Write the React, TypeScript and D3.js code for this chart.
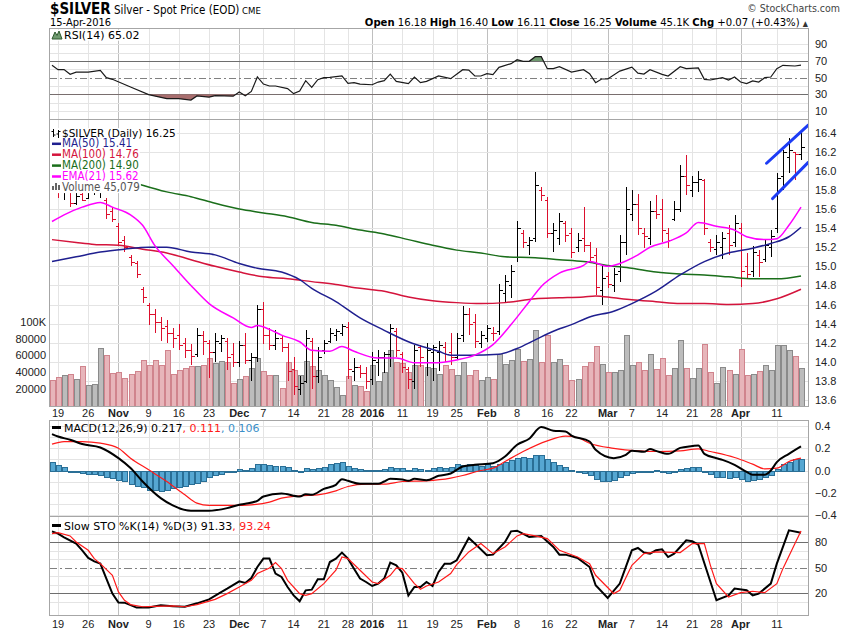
import { useEffect, useRef } from "react";
import * as d3 from "d3";

// ---- data (bar index 0 = 16-Oct-2015 ... 124 = 15-Apr-2016) ----

// [open, high, low, close]
const ohlc: [number, number, number, number][] = [
  [15.9, 15.95, 15.78, 15.85], [15.85, 15.9, 15.72, 15.78], [15.78, 15.88, 15.7, 15.84], [15.8, 15.82, 15.62, 15.66],
  [15.66, 15.78, 15.64, 15.74], [15.76, 15.82, 15.68, 15.7], [15.72, 15.88, 15.72, 15.8], [15.8, 15.92, 15.75, 15.84],
  [15.84, 16.05, 15.72, 15.88], [15.7, 15.72, 15.5, 15.55], [15.58, 15.62, 15.46, 15.5], [15.42, 15.45, 15.22, 15.25],
  [15.28, 15.32, 15.15, 15.2], [15.1, 15.12, 15.0, 15.05], [15.04, 15.06, 14.88, 14.92], [14.76, 14.78, 14.62, 14.68],
  [14.6, 14.62, 14.39, 14.5], [14.5, 14.55, 14.3, 14.42], [14.42, 14.47, 14.22, 14.35], [14.38, 14.44, 14.2, 14.3],
  [14.3, 14.35, 14.14, 14.25], [14.28, 14.4, 14.12, 14.18], [14.2, 14.25, 14.04, 14.12], [14.12, 14.19, 13.97, 14.06],
  [14.08, 14.35, 14.05, 14.28], [14.28, 14.32, 14.07, 14.22], [14.2, 14.23, 13.83, 14.1], [14.1, 14.3, 14.0, 14.22],
  [14.2, 14.28, 14.1, 14.25], [14.22, 14.25, 13.91, 14.05], [14.08, 14.2, 13.95, 14.0], [14.0, 14.22, 13.95, 14.18],
  [14.18, 14.3, 13.98, 14.02], [14.02, 14.09, 13.8, 14.05], [14.05, 14.6, 14.0, 14.55], [14.55, 14.63, 14.19, 14.28],
  [14.28, 14.35, 14.12, 14.18], [14.18, 14.33, 14.12, 14.25], [14.25, 14.28, 14.1, 14.15], [14.15, 14.2, 13.8, 13.9],
  [13.92, 14.05, 13.65, 13.75], [13.72, 13.85, 13.65, 13.78], [13.8, 14.33, 13.78, 14.25], [14.22, 14.25, 13.72, 13.85],
  [13.85, 14.15, 13.78, 14.05], [14.12, 14.23, 14.08, 14.2], [14.22, 14.35, 14.2, 14.3], [14.28, 14.34, 14.22, 14.32],
  [14.3, 14.4, 14.27, 14.38], [14.36, 14.42, 13.82, 13.92], [13.9, 14.04, 13.8, 13.95], [13.95, 13.97, 13.83, 13.88],
  [13.88, 13.95, 13.72, 13.8], [13.82, 14.1, 13.76, 14.02], [14.0, 14.12, 13.85, 14.05], [14.05, 14.1, 13.88, 14.08],
  [14.08, 14.4, 13.95, 14.35], [14.32, 14.35, 14.05, 14.12], [14.08, 14.1, 13.88, 13.95], [13.92, 13.95, 13.72, 13.82],
  [13.8, 14.18, 13.72, 14.12], [14.15, 14.18, 13.95, 14.05], [14.0, 14.2, 13.85, 14.12], [14.1, 14.18, 13.8, 14.15],
  [14.1, 14.22, 13.9, 14.18], [14.15, 14.21, 14.0, 14.08], [14.1, 14.3, 13.97, 14.05], [14.05, 14.3, 14.02, 14.25],
  [14.28, 14.58, 14.21, 14.5], [14.5, 14.56, 14.28, 14.4], [14.42, 14.5, 14.14, 14.22], [14.2, 14.32, 14.14, 14.28],
  [14.25, 14.39, 14.21, 14.35], [14.3, 14.36, 14.22, 14.3], [14.32, 14.81, 14.28, 14.75], [14.72, 14.91, 14.63, 14.85],
  [14.8, 15.01, 14.67, 14.95], [15.1, 15.47, 15.05, 15.4], [15.35, 15.38, 15.19, 15.25], [15.22, 15.31, 15.12, 15.28],
  [15.3, 15.99, 15.26, 15.85], [15.8, 15.83, 15.68, 15.75], [15.7, 15.73, 15.3, 15.35], [15.35, 15.45, 15.15, 15.38],
  [15.3, 15.56, 15.22, 15.48], [15.45, 15.47, 15.26, 15.33], [15.35, 15.4, 15.09, 15.15], [15.2, 15.35, 15.15, 15.28],
  [15.3, 15.62, 15.15, 15.22], [15.22, 15.26, 15.05, 15.1], [15.12, 15.19, 14.7, 14.78], [14.75, 15.01, 14.6, 14.88],
  [14.9, 14.94, 14.77, 14.82], [14.8, 14.98, 14.73, 14.92], [14.95, 15.33, 14.84, 15.25], [15.25, 15.83, 15.12, 15.6],
  [15.55, 15.8, 15.47, 15.65], [15.65, 15.76, 15.33, 15.4], [15.35, 15.4, 15.19, 15.32], [15.3, 15.68, 15.22, 15.58],
  [15.58, 15.75, 15.5, 15.55], [15.6, 15.71, 15.26, 15.38], [15.35, 15.4, 15.19, 15.28], [15.5, 15.68, 15.47, 15.6],
  [15.6, 16.06, 15.57, 15.95], [15.95, 16.17, 15.75, 15.85], [15.8, 15.95, 15.73, 15.88], [15.88, 16.0, 15.78, 15.92],
  [15.9, 15.92, 15.33, 15.4], [15.25, 15.29, 15.15, 15.2], [15.18, 15.33, 15.12, 15.25], [15.2, 15.36, 15.08, 15.3],
  [15.35, 15.43, 15.12, 15.22], [15.25, 15.54, 15.2, 15.45], [15.4, 15.45, 14.78, 14.95], [15.0, 15.14, 14.88, 14.92],
  [14.95, 15.21, 14.89, 15.15], [15.12, 15.17, 14.89, 15.05], [15.08, 15.28, 15.05, 15.22], [15.2, 15.38, 15.1, 15.32],
  [15.4, 15.98, 15.35, 15.93], [15.95, 16.22, 15.8, 16.2], [16.15, 16.34, 15.98, 16.22], [16.2, 16.2, 15.9, 16.18],
  [16.18, 16.4, 16.11, 16.25],
];

// volume, thousands
const volumeK = [
  31, 34, 36, 38, 32, 47, 24, 26, 69, 61,
  39, 40, 33, 38, 41, 54, 49, 55, 48, 66,
  38, 42, 45, 47, 47, 48, 57, 51, 53, 52,
  27, 32, 35, 45, 57, 41, 37, 36, 21, 52,
  42, 36, 53, 47, 43, 37, 30, 22, 13, 35,
  24, 23, 17, 49, 29, 40, 66, 52, 51, 40,
  48, 49, 46, 45, 38, 48, 44, 36, 52, 37,
  42, 31, 34, 32, 62, 50, 54, 68, 53, 56,
  91, 52, 85, 52, 56, 49, 30, 32, 47, 52,
  71, 50, 40, 40, 42, 84, 48, 52, 43, 62,
  44, 57, 37, 45, 78, 45, 33, 45, 74, 40,
  27, 46, 43, 38, 68, 36, 38, 41, 49, 42,
  72, 73, 67, 59, 45.079,
];

// overlays: [bar index, value]
const ma50: [number, number][] = [
  [0, 15.05], [4, 15.1], [8, 15.15], [12, 15.18], [16, 15.2], [19, 15.2], [23, 15.15], [27, 15.12], [31, 15.03],
  [34, 14.98], [38, 14.94], [41, 14.86], [43, 14.77], [47, 14.63], [51, 14.46], [55, 14.33], [59, 14.21], [64, 14.11],
  [66, 14.07], [69, 14.07], [74, 14.08], [77, 14.14], [80, 14.23], [83, 14.32], [86, 14.39], [89, 14.47], [93, 14.53],
  [96, 14.61], [100, 14.74], [104, 14.91], [108, 15.05], [112, 15.14], [116, 15.19], [119, 15.24], [122, 15.31], [124, 15.41],
];
const ma100: [number, number][] = [
  [0, 15.28], [4, 15.25], [7, 15.23], [11, 15.22], [15, 15.18], [19, 15.14], [23, 15.07], [27, 15.0], [31, 14.94],
  [35, 14.89], [39, 14.87], [43, 14.84], [47, 14.81], [51, 14.77], [55, 14.74], [59, 14.68], [63, 14.64], [67, 14.62],
  [71, 14.61], [75, 14.62], [80, 14.66], [84, 14.67], [88, 14.68], [90, 14.69], [93, 14.67], [96, 14.65], [100, 14.63],
  [104, 14.61], [108, 14.61], [112, 14.6], [116, 14.61], [120, 14.66], [124, 14.76],
];
const ma200: [number, number][] = [
  [0, 16.0], [5, 15.96], [10, 15.91], [13, 15.89], [15, 15.85], [19, 15.78], [23, 15.73], [27, 15.66], [31, 15.6],
  [35, 15.56], [39, 15.52], [43, 15.46], [47, 15.43], [51, 15.38], [55, 15.34], [59, 15.28], [63, 15.22], [67, 15.17],
  [71, 15.14], [75, 15.1], [80, 15.09], [84, 15.07], [88, 15.05], [92, 15.01], [96, 14.98], [100, 14.94], [104, 14.92],
  [108, 14.91], [112, 14.89], [116, 14.87], [120, 14.87], [124, 14.9],
];
const ema21: [number, number][] = [
  [0, 15.47], [2, 15.54], [5, 15.62], [8, 15.67], [10, 15.62], [13, 15.54], [15, 15.43], [17, 15.22], [20, 15.01],
  [23, 14.8], [26, 14.61], [30, 14.46], [33, 14.36], [34, 14.38], [36, 14.34], [38, 14.28], [41, 14.21], [43, 14.12],
  [46, 14.11], [48, 14.16], [50, 14.11], [54, 14.04], [57, 14.04], [60, 13.99], [63, 13.99], [67, 14.02], [70, 14.07],
  [73, 14.18], [76, 14.39], [79, 14.63], [81, 14.79], [84, 14.93], [88, 15.01], [89, 15.05], [92, 15.0], [94, 15.03],
  [97, 15.12], [99, 15.2], [102, 15.26], [105, 15.35], [107, 15.46], [110, 15.42], [113, 15.38], [115, 15.31],
  [118, 15.28], [120, 15.29], [122, 15.43], [124, 15.62],
];

const rsi: [number, number][] = [
  [0, 64.8], [1, 59.6], [2, 59.8], [3, 54], [4, 56.7], [6, 56.7], [8, 58.8], [9, 50], [10, 48], [13, 38.7], [16, 29.6],
  [19, 24.8], [21, 24.8], [23, 23.1], [24, 28], [26, 26.6], [27, 28.3], [30, 27.8], [31, 32.7], [32, 28.3], [33, 33.5],
  [34, 50.8], [35, 42.3], [36, 40], [37, 40], [39, 36.8], [40, 30.8], [41, 33.9], [42, 46.4], [43, 38.3], [44, 47.6],
  [45, 50], [46, 50.3], [48, 52], [49, 43.2], [50, 44], [51, 42.3], [53, 41.5], [54, 44.7], [55, 46.4], [56, 54.3],
  [57, 45.5], [59, 42.8], [60, 50.8], [61, 44], [62, 45.6], [64, 52], [66, 48.8], [68, 59.6], [69, 59], [70, 52],
  [71, 52], [72, 54.8], [73, 53.6], [74, 62.4], [76, 66.8], [77, 71.6], [78, 69.6], [79, 69.6], [80, 75.2], [81, 75.2],
  [82, 60.8], [83, 60.8], [84, 63.2], [86, 56.7], [88, 59.6], [89, 54.8], [90, 44], [91, 48.4], [92, 48.4], [94, 57.9],
  [96, 62.7], [97, 55.5], [98, 54.3], [99, 59.6], [101, 54], [102, 52], [104, 63.2], [105, 60.8], [107, 61.6], [108, 48],
  [109, 47.2], [111, 50], [112, 47.2], [113, 50.8], [114, 44.7], [115, 42.8], [116, 46], [117, 44.7], [118, 50],
  [119, 50.8], [120, 60.8], [121, 64.8], [123, 64], [124, 65.02],
];

const macd: [number, number][] = [
  [0, 0.328], [1, 0.306], [3, 0.277], [5, 0.238], [8, 0.207], [11, 0.111], [13, 0.022], [15, -0.099], [18, -0.249],
  [20, -0.315], [23, -0.363], [26, -0.363], [29, -0.339], [31, -0.309], [32, -0.3], [34, -0.273], [35, -0.234],
  [38, -0.207], [41, -0.234], [42, -0.213], [43, -0.219], [45, -0.165], [47, -0.129], [48, -0.078], [49, -0.093],
  [51, -0.12], [54, -0.12], [55, -0.099], [56, -0.075], [58, -0.081], [59, -0.093], [60, -0.075], [62, -0.088],
  [64, -0.048], [66, -0.027], [68, 0.036], [70, 0.051], [73, 0.066], [75, 0.126], [77, 0.232], [79, 0.286], [81, 0.391],
  [83, 0.358], [85, 0.352], [86, 0.315], [89, 0.261], [90, 0.186], [93, 0.111], [95, 0.141], [96, 0.177], [98, 0.168],
  [99, 0.193], [100, 0.177], [102, 0.15], [104, 0.204], [106, 0.22], [107, 0.226], [108, 0.15], [110, 0.111],
  [111, 0.096], [113, 0.051], [115, -0.012], [116, -0.039], [118, -0.039], [119, 0.0], [120, 0.075], [122, 0.15], [124, 0.217],
];
const signal: [number, number][] = [
  [0, 0.238], [2, 0.261], [5, 0.261], [8, 0.246], [11, 0.2], [13, 0.111], [16, 0.006], [19, -0.099], [22, -0.219],
  [24, -0.294], [26, -0.315], [30, -0.315], [33, -0.309], [36, -0.285], [38, -0.249], [41, -0.228], [44, -0.219],
  [47, -0.183], [49, -0.144], [52, -0.123], [55, -0.123], [58, -0.099], [62, -0.093], [66, -0.069], [68, -0.045],
  [71, 0.0], [73, 0.021], [75, 0.081], [78, 0.171], [82, 0.267], [85, 0.31], [87, 0.297], [89, 0.246], [93, 0.2],
  [97, 0.177], [100, 0.171], [104, 0.177], [107, 0.195], [109, 0.171], [113, 0.117], [116, 0.057], [118, 0.015],
  [120, 0.021], [122, 0.081], [124, 0.111],
];
const histogram = [
  0.075, 0.051, 0.033, -0.003, -0.015, -0.024, -0.033, -0.033, -0.039, -0.057,
  -0.069, -0.087, -0.099, -0.123, -0.141, -0.153, -0.174, -0.177, -0.183, -0.177,
  -0.159, -0.153, -0.144, -0.123, -0.114, -0.093, -0.063, -0.045, -0.033, -0.015,
  -0.009, 0.015, 0.006, 0.021, 0.057, 0.057, 0.051, 0.045, 0.039, 0.033,
  0.009, -0.003, 0.027, 0.012, 0.021, 0.033, 0.057, 0.066, 0.075, 0.045,
  0.027, 0.015, 0.006, 0.006, 0.006, 0.015, 0.03, 0.027, 0.021, 0.009,
  0.021, 0.015, 0.009, 0.021, 0.03, 0.021, 0.036, 0.057, 0.051, 0.057,
  0.051, 0.045, 0.057, 0.045, 0.057, 0.075, 0.096, 0.117, 0.123, 0.111,
  0.141, 0.141, 0.102, 0.075, 0.051, 0.03, 0.006, -0.009, -0.024, -0.045,
  -0.075, -0.099, -0.099, -0.084, -0.063, -0.039, -0.024, -0.009, -0.009, -0.003,
  0.006, -0.003, -0.024, -0.015, 0.015, 0.027, 0.03, 0.033, -0.009, -0.033,
  -0.063, -0.063, -0.069, -0.063, -0.075, -0.093, -0.087, -0.075, -0.063, -0.039,
  0.015, 0.057, 0.081, 0.105, 0.106,
];

const stoK: [number, number][] = [
  [0, 92.9], [1, 90.2], [2, 85.9], [4, 78.5], [5, 70.6], [6, 61.6], [7, 57.6], [8, 54.9], [9, 37.3], [10, 19.6],
  [11, 9.1], [12, 9], [14, 3.2], [16, 3.2], [18, 5.9], [20, 4.7], [22, 4.2], [24, 8.2], [26, 12.9], [28, 21.5],
  [29, 25.5], [31, 34.1], [32, 32.1], [33, 38], [34, 50.9], [35, 60.8], [36, 60.8], [37, 43.2], [38, 39.2], [39, 27.4],
  [40, 17.6], [41, 10.6], [42, 23.5], [43, 24.3], [44, 36.5], [45, 36.5], [46, 56.8], [47, 60.8], [48, 67.9], [49, 60.8],
  [50, 49], [51, 37.3], [52, 33.3], [53, 28.6], [54, 31.4], [55, 37.3], [56, 56.1], [57, 52.9], [58, 44.3], [59, 17.6],
  [60, 27.4], [61, 27.4], [62, 33.3], [63, 28.6], [64, 45.1], [65, 54.9], [66, 54.9], [67, 58.8], [69, 85.1], [70, 78.5],
  [72, 64.7], [73, 65.5], [75, 80.4], [76, 92.9], [77, 93.7], [79, 86.3], [81, 87.5], [83, 74.5], [84, 65.5], [85, 65.5],
  [87, 61.6], [89, 50.9], [90, 29.4], [92, 14.5], [94, 31.4], [96, 70.6], [97, 73.3], [98, 67.9], [99, 66.7], [100, 70.6],
  [101, 71.8], [102, 62.7], [103, 66.7], [104, 74.5], [105, 82.4], [106, 81.2], [107, 77.3], [110, 11.8], [112, 17.6],
  [113, 25.5], [115, 23.5], [116, 17.6], [117, 19.6], [119, 31.4], [120, 54.9], [122, 94.1], [124, 91.33],
];
const stoD: [number, number][] = [
  [0, 90.2], [1, 91.4], [3, 87.5], [4, 80.4], [6, 70.6], [7, 60.8], [8, 54.9], [10, 41.2], [11, 21.6], [12, 11.8],
  [13, 6.7], [15, 4.2], [17, 4.7], [20, 5.1], [22, 4.2], [24, 6.7], [27, 12.9], [29, 19.6], [31, 27.4], [33, 35.3],
  [34, 43.2], [36, 49.8], [37, 56.1], [38, 49], [39, 35.3], [41, 19.6], [42, 17.6], [43, 19.6], [45, 31.4], [47, 47.1],
  [48, 62.7], [49, 60.8], [51, 47.1], [53, 33.3], [54, 31.4], [56, 41.2], [57, 49.8], [58, 49], [60, 31.4], [61, 24.7],
  [62, 28.6], [64, 33.3], [66, 43.2], [67, 53.8], [69, 68.7], [71, 78.5], [73, 66.7], [75, 74.5], [77, 87.5], [78, 90.2],
  [80, 87.5], [82, 84.3], [84, 70.6], [87, 62.7], [89, 54.9], [90, 41.2], [93, 19.6], [94, 23.5], [96, 52.9], [98, 66.7],
  [100, 68.7], [104, 67.9], [106, 78.5], [108, 78.5], [109, 52.9], [110, 31.4], [112, 15.7], [114, 20.8], [116, 22.4],
  [118, 20.8], [120, 31.4], [121, 49], [123, 78.5], [124, 93.24],
];

// hand-drawn channel on the price panel: [bar index, price]
const channelUpper: [number, number][] = [[118.3, 16.08], [125.2, 16.48]];
const channelLower: [number, number][] = [[119.3, 15.71], [125.2, 16.09]];

// axis labels
const xTicks: [number, string, boolean][] = [
  [1, "19", false], [6, "26", false], [11, "Nov", true], [16, "9", false], [21, "16", false], [26, "23", false],
  [31, "Dec", true], [35, "7", false], [40, "14", false], [45, "21", false], [49, "28", false], [53, "2016", true],
  [58, "11", false], [63, "19", false], [67, "25", false], [72, "Feb", true], [77, "8", false], [82, "16", false],
  [86, "22", false], [92, "Mar", true], [96, "7", false], [101, "14", false], [106, "21", false], [110, "28", false],
  [114, "Apr", true], [120, "11", false],
];
const priceTicks = [13.6, 13.8, 14.0, 14.2, 14.4, 14.6, 14.8, 15.0, 15.2, 15.4, 15.6, 15.8, 16.0, 16.2, 16.4];
const volTicks: [number, string][] = [[20, "20000"], [40, "40000"], [60, "60000"], [80, "80000"], [100, "100K"]];
const rsiTicks = [10, 30, 50, 70, 90];
const rsiGrid = [10, 20, 40, 60, 80, 90];
const macdTicks = [-0.4, -0.2, 0, 0.2, 0.4];
const macdGrid = [-0.4, -0.3, -0.2, -0.1, 0, 0.1, 0.2, 0.3, 0.4];
const stoTicks = [20, 50, 80];
const stoGrid = [10, 30, 40, 60, 70, 90];

const W = 850;
const H = 633;
const F_AX = "'Liberation Sans', Arial, sans-serif";
const F_LEG = "'DejaVu Sans', Verdana, sans-serif";
const F_NAR = "'Liberation Sans Narrow', 'DejaVu Sans Condensed', sans-serif";

const C = {
  up: "#000000",
  down: "#dc0f2d",
  volUp: "#bcbcbc",
  volUpLine: "#8a8a8a",
  volDn: "#e7b5ba",
  volDnLine: "#d0848d",
  ma50: "#1f1f8f",
  ma100: "#d4143c",
  ma200: "#1a6e1a",
  ema21: "#ff00ff",
  grid: "#e4e4e4",
  gridMonth: "#bfbfbf",
  frame: "#a6a6a6",
  level: "#6e6e6e",
};

export default function App() {
  const ref = useRef<SVGSVGElement | null>(null);

  useEffect(() => {
    const el = ref.current;
    if (!el) return;
    const svg = d3.select(el);
    svg.selectAll("*").remove();

    const PL = 49.5, PR = 808.5;
    const panels = {
      rsi: { t: 28.5, b: 119.5 },
      main: { t: 119.5, b: 406.5 },
      macd: { t: 420.5, b: 516.5 },
      sto: { t: 516.5, b: 615.5 },
    };

    const x = d3.scaleLinear().domain([0, 124]).range([52, 801]);
    const yR = d3.scaleLinear().domain([30, 70]).range([94.3, 61.0]);
    const yP = d3.scaleLinear().domain([13.6, 16.4]).range([400, 132.7]);
    const yV = d3.scaleLinear().domain([0, 100]).range([405.5, 322]);
    const yM = d3.scaleLinear().domain([-0.2, 0.2]).range([492.7, 448.3]);
    const yS = d3.scaleLinear().domain([20, 80]).range([593.3, 542.3]);
    const px = (i: number) => Math.round(x(i)) + 0.5;

    const defs = svg.append("defs");
    const clip = (id: string, t: number, b: number) =>
      defs.append("clipPath").attr("id", id).append("rect").attr("x", PL).attr("y", t).attr("width", PR - PL).attr("height", b - t);
    clip("cMain", panels.main.t, panels.main.b);
    clip("cRsiHi", panels.rsi.t, yR(70));
    clip("cRsiLo", yR(30), panels.rsi.b);

    // ---- grids ----
    const grid = svg.append("g").attr("shape-rendering", "crispEdges");
    Object.values(panels).forEach((p) => {
      xTicks.forEach(([i, , m]) => {
        grid.append("line").attr("x1", px(i)).attr("x2", px(i)).attr("y1", p.t).attr("y2", p.b)
          .attr("stroke", m ? C.gridMonth : C.grid);
      });
    });
    const hline = (y: number, color: string, dash?: string) => {
      const l = grid.append("line").attr("x1", PL).attr("x2", PR)
        .attr("y1", Math.round(y) + 0.5).attr("y2", Math.round(y) + 0.5).attr("stroke", color);
      if (dash) l.attr("stroke-dasharray", dash);
    };
    rsiGrid.forEach((v) => hline(yR(v), C.grid));
    priceTicks.forEach((v) => hline(yP(v), C.grid));
    macdGrid.forEach((v) => hline(yM(v), C.grid));
    stoGrid.forEach((v) => hline(yS(v), C.grid));

    // ---- RSI ----
    const rsiG = svg.append("g");
    const areaHi = d3.area<[number, number]>().x((d) => x(d[0])).y0(yR(70)).y1((d) => yR(d[1]));
    const areaLo = d3.area<[number, number]>().x((d) => x(d[0])).y0(yR(30)).y1((d) => yR(d[1]));
    rsiG.append("path").datum(rsi).attr("d", areaHi).attr("fill", "#6f9a6f").attr("clip-path", "url(#cRsiHi)");
    rsiG.append("path").datum(rsi).attr("d", areaLo).attr("fill", "#a86e6e").attr("clip-path", "url(#cRsiLo)");
    [30, 70].forEach((v) => hline(yR(v), C.level));
    hline(yR(50), "#808080", "7,3,2,3");
    rsiG.append("path").datum(rsi)
      .attr("d", d3.line<[number, number]>().x((d) => x(d[0])).y((d) => yR(d[1])))
      .attr("fill", "none").attr("stroke", "#1a1a1a").attr("stroke-width", 1.2);

    // ---- main: volume ----
    const mainG = svg.append("g").attr("clip-path", "url(#cMain)");
    const isDown = (i: number) => (i === 0 ? ohlc[0][3] < ohlc[0][0] : ohlc[i][3] < ohlc[i - 1][3]);
    mainG.append("g").attr("shape-rendering", "crispEdges")
      .selectAll("rect").data(volumeK).enter().append("rect")
      .attr("x", (_, i) => Math.round(x(i)) - 2 + 0.5)
      .attr("width", 5)
      .attr("y", (v) => Math.round(yV(v)) + 0.5)
      .attr("height", (v) => Math.round(yV(0)) - Math.round(yV(v)))
      .attr("fill", (_, i) => (isDown(i) ? C.volDn : C.volUp))
      .attr("stroke", (_, i) => (isDown(i) ? C.volDnLine : C.volUpLine));

    // ---- price bars ----
    const bars = mainG.append("g").attr("shape-rendering", "crispEdges");
    ohlc.forEach(([o, h, l, c], i) => {
      const col = isDown(i) ? C.down : C.up;
      const xx = px(i);
      bars.append("line").attr("x1", xx).attr("x2", xx).attr("y1", yP(h)).attr("y2", yP(l)).attr("stroke", col);
      bars.append("line").attr("x1", xx - 3).attr("x2", xx).attr("y1", Math.round(yP(o)) + 0.5).attr("y2", Math.round(yP(o)) + 0.5).attr("stroke", col);
      bars.append("line").attr("x1", xx).attr("x2", xx + 3).attr("y1", Math.round(yP(c)) + 0.5).attr("y2", Math.round(yP(c)) + 0.5).attr("stroke", col);
    });

    // ---- moving averages ----
    const ovl = d3.line<[number, number]>().x((d) => x(d[0])).y((d) => yP(d[1])).curve(d3.curveMonotoneX);
    ([
      [ma200, C.ma200],
      [ma100, C.ma100],
      [ma50, C.ma50],
      [ema21, C.ema21],
    ] as [[number, number][], string][]).forEach(([pts, col]) => {
      mainG.append("path").datum(pts).attr("d", ovl).attr("fill", "none").attr("stroke", col).attr("stroke-width", 1.5);
    });

    // channel
    const chan = d3.line<[number, number]>().x((d) => x(d[0])).y((d) => yP(d[1]));
    [channelUpper, channelLower].forEach((pts) => {
      mainG.append("path").datum(pts).attr("d", chan).attr("stroke", "#1d3cf5").attr("stroke-width", 3)
        .attr("stroke-linecap", "round").attr("fill", "none");
    });

    // ---- MACD ----
    const macdG = svg.append("g");
    macdG.append("g").attr("shape-rendering", "crispEdges")
      .selectAll("rect").data(histogram).enter().append("rect")
      .attr("x", (_, i) => Math.round(x(i)) - 2 + 0.5)
      .attr("width", 5)
      .attr("y", (v) => Math.round(Math.min(yM(v), yM(0))) + 0.5)
      .attr("height", (v) => Math.max(0.5, Math.abs(Math.round(yM(v)) - Math.round(yM(0)))))
      .attr("fill", "#56a7d2").attr("stroke", "#2a6f96");
    const mline = d3.line<[number, number]>().x((d) => x(d[0])).y((d) => yM(d[1])).curve(d3.curveMonotoneX);
    macdG.append("path").datum(signal).attr("d", mline).attr("fill", "none").attr("stroke", "#ff1a1a").attr("stroke-width", 1.2);
    macdG.append("path").datum(macd).attr("d", mline).attr("fill", "none").attr("stroke", "#000").attr("stroke-width", 2);

    // ---- Slow STO ----
    [20, 80].forEach((v) => hline(yS(v), C.level));
    hline(yS(50), "#808080", "7,3,2,3");
    const sG = svg.append("g");
    const sline = d3.line<[number, number]>().x((d) => x(d[0])).y((d) => yS(d[1]));
    sG.append("path").datum(stoK).attr("d", sline).attr("fill", "none").attr("stroke", "#000").attr("stroke-width", 2);
    sG.append("path").datum(stoD).attr("d", sline).attr("fill", "none").attr("stroke", "#ff1a1a").attr("stroke-width", 1.2);

    // ---- frames ----
    Object.values(panels).forEach((p) => {
      svg.append("rect").attr("x", PL).attr("y", p.t).attr("width", PR - PL).attr("height", p.b - p.t)
        .attr("fill", "none").attr("stroke", C.frame).attr("shape-rendering", "crispEdges");
    });

    // ---- axis labels ----
    const lab = svg.append("g").attr("font-family", F_AX).attr("font-size", 11).attr("fill", "#222");
    const rlabel = (y: number, t: string) =>
      lab.append("text").attr("x", t.startsWith("-") ? 811.5 : 815).attr("y", y + 4).text(t);
    priceTicks.forEach((v) => rlabel(yP(v), d3.format(".1f")(v)));
    rsiTicks.forEach((v) => rlabel(yR(v), String(v)));
    macdTicks.forEach((v) => rlabel(yM(v), d3.format(".1f")(v)));
    stoTicks.forEach((v) => rlabel(yS(v), String(v)));
    volTicks.forEach(([v, t]) => lab.append("text").attr("x", 46).attr("y", yV(v) + 4).attr("text-anchor", "end").text(t));
    [416.5, 627.5].forEach((yy) => {
      xTicks.forEach(([i, t, m]) => {
        lab.append("text").attr("x", x(i)).attr("y", yy).attr("text-anchor", "middle")
          .attr("font-weight", m ? "bold" : "normal").text(t);
      });
    });

    // ---- header ----
    const h1 = svg.append("text").attr("x", 50).attr("y", 13.5).attr("font-family", F_NAR).attr("fill", "#000");
    h1.append("tspan").attr("font-size", 15).attr("font-weight", "bold").text("$SILVER");
    h1.append("tspan").attr("font-size", 11.5).text(" Silver - Spot Price (EOD)");
    h1.append("tspan").attr("font-size", 9.5).text(" CME");
    svg.append("text").attr("x", 50).attr("y", 26).attr("font-family", F_NAR).attr("font-size", 11).text("15-Apr-2016");
    svg.append("text").attr("x", 840).attr("y", 12).attr("text-anchor", "end").attr("font-family", F_NAR)
      .attr("font-size", 10.5).attr("fill", "#444").text("© StockCharts.com");
    const h2 = svg.append("text").attr("x", 808).attr("y", 26).attr("text-anchor", "end")
      .attr("font-family", F_NAR).attr("font-size", 11.2).attr("fill", "#000");
    ([
      ["Open", true], [" 16.18 ", false], ["High", true], [" 16.40 ", false], ["Low", true], [" 16.11 ", false],
      ["Close", true], [" 16.25 ", false], ["Volume", true], [" 45.1K ", false], ["Chg", true], [" +0.07 (+0.43%) ", false],
    ] as [string, boolean][]).forEach(([t, b]) => {
      h2.append("tspan").attr("font-weight", b ? "bold" : "normal").attr("xml:space", "preserve").text(t);
    });
    h2.append("tspan").attr("font-size", 7.5).attr("fill", "#333").text("▲");

    // ---- legends ----
    const leg = svg.append("g");
    const legRow = (y: number, parts: [string, string][], font: string, size: number, textX: number) => {
      const g = leg.append("g");
      const bg = g.append("rect").attr("fill", "#fff");
      const t = g.append("text").attr("x", textX).attr("y", y).attr("font-family", font).attr("font-size", size);
      parts.forEach(([s, col]) => t.append("tspan").attr("fill", col).text(s));
      const bb = (t.node() as SVGTextElement).getBBox();
      bg.attr("x", 50).attr("y", y - size * 0.8).attr("width", bb.x + bb.width - 50 + 1).attr("height", size * 1.0);
      return g;
    };

    // RSI
    legRow(38.5, [["RSI(14) 65.02", "#000"]], F_LEG, 11, 64);
    leg.append("path").attr("d", "M52,39 L55,32 L57,35.5 L59,31 L62,39 Z").attr("fill", "#6f9a6f").attr("stroke", "#2e5a2e");

    // main overlays
    const r1 = legRow(136.5, [["$SILVER (Daily) 16.25", "#000"]], F_LEG, 10.5, 62);
    r1.append("path").attr("d", "M53.5,129 V137 M51.5,131.5 H53.5 M53.5,135 H55.5 M58.5,130 V138 M56.5,134 H58.5 M58.5,131.5 H60.5")
      .attr("stroke", "#000").attr("fill", "none");
    ([
      [147.3, "MA(50) 15.41", C.ma50],
      [158.2, "MA(100) 14.76", C.ma100],
      [169.1, "MA(200) 14.90", C.ma200],
      [180, "EMA(21) 15.62", C.ema21],
    ] as [number, string, string][]).forEach(([y, s, col]) => {
      const g = legRow(y, [[s, col]], F_NAR, 11.5, 62);
      g.append("line").attr("x1", 52).attr("x2", 61).attr("y1", y - 3.5).attr("y2", y - 3.5).attr("stroke", col).attr("stroke-width", 2.5);
    });
    const rv = legRow(190.8, [["Volume 45,079", "#555"]], F_NAR, 11.5, 62);
    [[52, 4], [55, 7], [58, 5]].forEach(([bx, bh]) => {
      rv.append("rect").attr("x", bx).attr("y", 190 - bh).attr("width", 2).attr("height", bh).attr("fill", "#666");
    });

    // MACD
    const mg = legRow(431.5, [["MACD(12,26,9) 0.217", "#000"], [", 0.111", "#ff1a1a"], [", 0.106", "#3a8fc8"]], F_LEG, 11, 64);
    mg.select("rect").attr("fill", "none");
    leg.append("line").attr("x1", 52).attr("x2", 61).attr("y1", 427.5).attr("y2", 427.5).attr("stroke", "#000").attr("stroke-width", 3);

    // STO
    const sg = legRow(529.5, [["Slow STO %K(14) %D(3) 91.33", "#000"], [", 93.24", "#ff1a1a"]], F_LEG, 11, 64);
    sg.select("rect").attr("fill", "none");
    leg.append("line").attr("x1", 52).attr("x2", 61).attr("y1", 525.5).attr("y2", 525.5).attr("stroke", "#000").attr("stroke-width", 3);
  }, []);

  return (
    <svg
      ref={ref}
      width={W}
      height={H}
      style={{ position: "absolute", left: 0, top: 0, background: "#fff" }}
      role="img"
      aria-label="SILVER daily chart"
    />
  );
}
